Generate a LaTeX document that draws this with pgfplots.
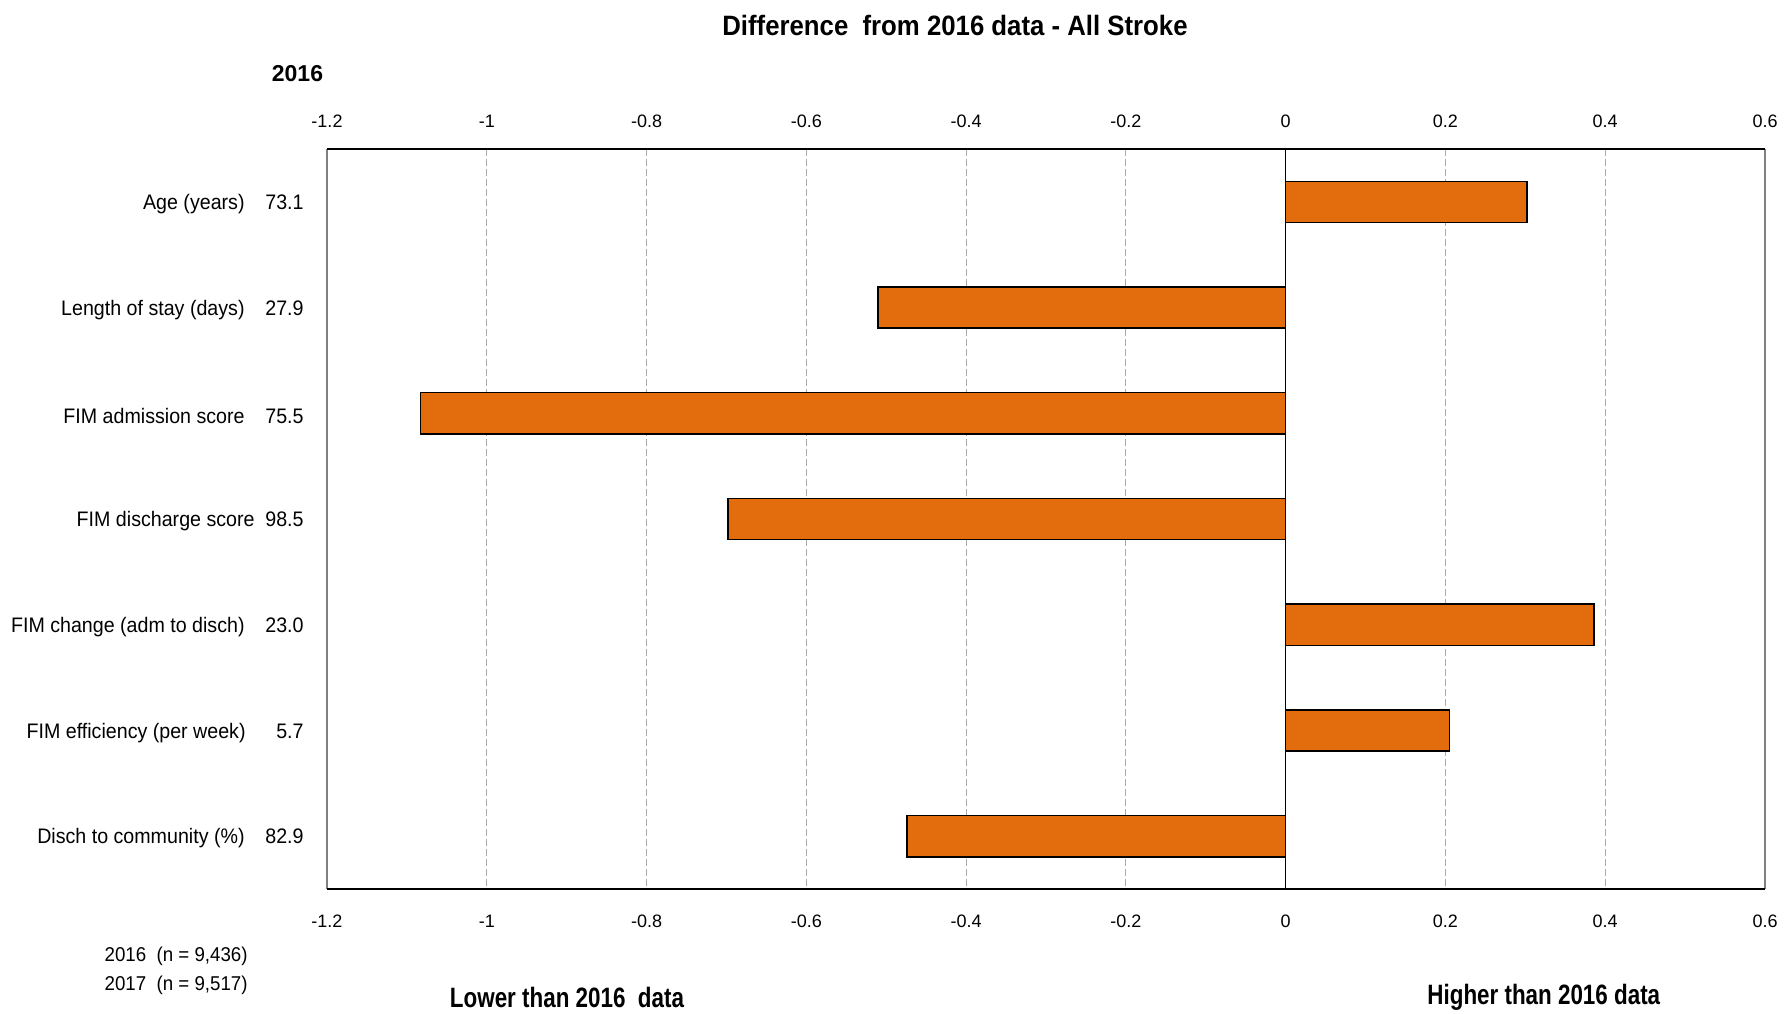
\documentclass[border=0pt]{standalone}
\usepackage{fontspec}
\setmainfont{Liberation Sans}
\newfontfamily\catfont{Liberation Sans}[FakeStretch=0.935]
\newfontfamily\titlefont{Liberation Sans}[FakeStretch=0.92]
\newfontfamily\narrowfont{Liberation Sans}[FakeStretch=0.8]
\usepackage{pgfplots}
\pgfplotsset{compat=1.18}
\definecolor{barorange}{RGB}{227,108,12}
\definecolor{gridgray}{RGB}{170,170,170}
\definecolor{framegray}{RGB}{128,128,128}
\newcommand{\vl}[2][29.5pt]{\makebox[#1][r]{#2}}

\begin{document}
\begin{tikzpicture}[x=1pt,y=1pt]
\begin{axis}[
  at={(163.5pt,62pt)}, anchor=south west,
  scale only axis, width=719pt, height=370pt,
  xmin=-1.2, xmax=0.6, ymin=-0.5, ymax=6.5, y dir=reverse,
  xbar, bar width=0.39,
  xtick={-1.2,-1,-0.8,-0.6,-0.4,-0.2,0,0.2,0.4,0.6},
  xticklabels={-1.2,-1,-0.8,-0.6,-0.4,-0.2,0,0.2,0.4,0.6},
  ytick={0,1,2,3,4,5,6},
  yticklabels={
    Age (years)\vl{73.1},
    Length of stay (days)\vl{27.9},
    FIM admission score\vl{75.5},
    FIM discharge score\vl[24.5pt]{98.5},
    FIM change (adm to disch)\vl{23.0},
    FIM efficiency (per week)\vl[29pt]{5.7},
    Disch to community (\%)\vl{82.9}},
  major tick length=0pt,
  xmajorgrids,
  grid style={gridgray, line width=0.5pt, dash pattern=on 3.5pt off 1.5pt},
  axis line style={draw=none},
  xticklabel pos=lower,
  xticklabel style={font=\fontsize{9}{10}\selectfont, anchor=center, yshift=-16pt},
  yticklabel style={font=\catfont\fontsize{10.5}{12}\selectfont, anchor=east, inner sep=0pt, xshift=-11.5pt, yshift=-1.2pt},
  clip=false,
]
\addplot[fill=barorange, draw=black, line width=0.75pt]
  coordinates {(0.302,0) (-0.510,1) (-1.083,2) (-0.698,3) (0.386,4) (0.205,5) (-0.474,6)};
\draw[black, line width=0.65pt] (axis cs:0,-0.5) -- (axis cs:0,6.5);
\draw[framegray, line width=0.6pt] (rel axis cs:0,0) -- (rel axis cs:0,1);
\draw[framegray, line width=0.6pt] (rel axis cs:1,0) -- (rel axis cs:1,1);
\draw[black, line width=1.1pt] (rel axis cs:0,0) -- (rel axis cs:1,0);
\draw[black, line width=1.1pt] (rel axis cs:0,1) -- (rel axis cs:1,1);
\end{axis}
\begin{axis}[
  at={(163.5pt,62pt)}, anchor=south west,
  scale only axis, width=719pt, height=370pt,
  xmin=-1.2, xmax=0.6, ymin=-0.5, ymax=6.5,
  xtick={-1.2,-1,-0.8,-0.6,-0.4,-0.2,0,0.2,0.4,0.6},
  xticklabels={-1.2,-1,-0.8,-0.6,-0.4,-0.2,0,0.2,0.4,0.6},
  ytick=\empty,
  major tick length=0pt,
  axis line style={draw=none},
  xticklabel pos=upper,
  xticklabel style={font=\fontsize{9}{10}\selectfont, anchor=center, yshift=14pt},
]
\end{axis}
\node[inner sep=0pt, font=\titlefont\bfseries\fontsize{14}{16}\selectfont] at (477.5,494) {Difference\ \ from 2016 data - All Stroke};
\node[inner sep=0pt, font=\bfseries\fontsize{11.5}{13}\selectfont] at (148.75,469.5) {2016};
\node[inner sep=0pt, anchor=east, font=\catfont\fontsize{10}{12}\selectfont] at (124,28.1) {2016\ \ (n = 9,436)};
\node[inner sep=0pt, anchor=east, font=\catfont\fontsize{10}{12}\selectfont] at (124,14) {2017\ \ (n = 9,517)};
\node[inner sep=0pt, font=\narrowfont\bfseries\fontsize{14}{16}\selectfont] at (283.5,7.75) {Lower than 2016\ \ data};
\node[inner sep=0pt, font=\narrowfont\bfseries\fontsize{14}{16}\selectfont] at (771.9,7.75) {Higher than 2016 data};
\pgfresetboundingbox
\useasboundingbox (0,0) rectangle (893.5,506.5);
\end{tikzpicture}
\end{document}
